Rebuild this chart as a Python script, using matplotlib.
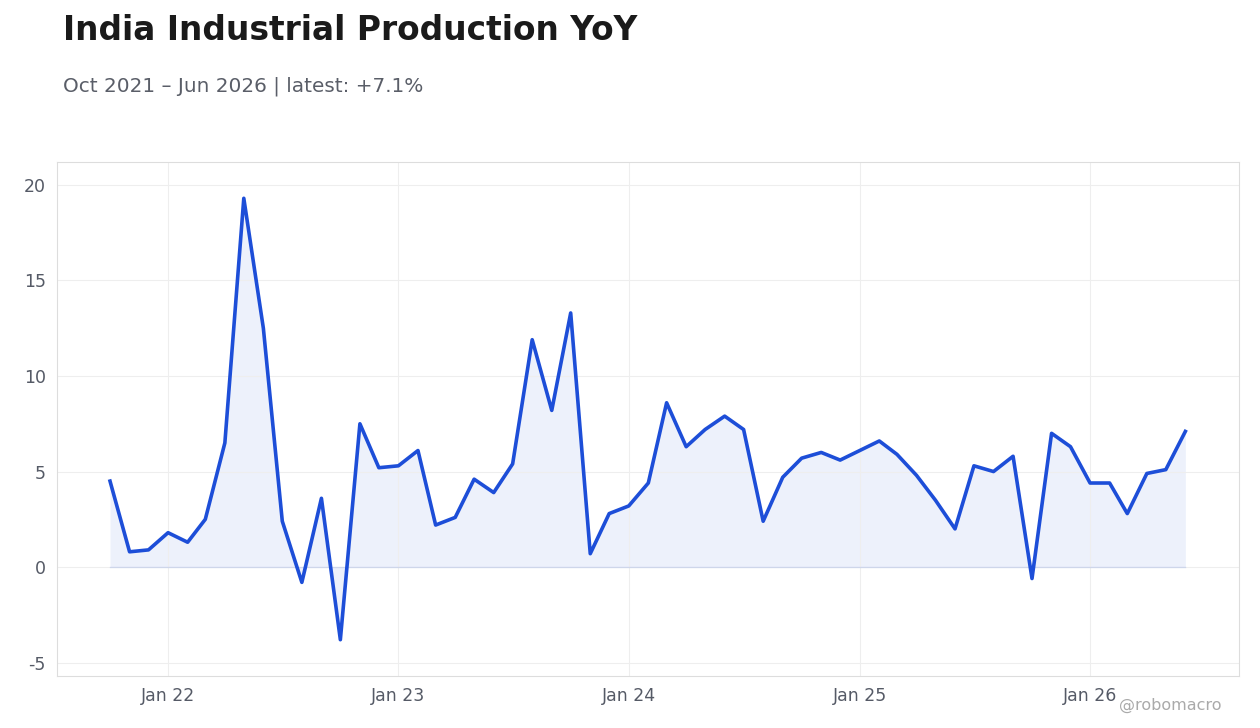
import matplotlib
matplotlib.use("Agg")
import matplotlib.pyplot as plt
import matplotlib.dates as mdates
import pandas as pd

plt.rcParams["axes.unicode_minus"] = False

dates = pd.date_range("2021-10-01", "2026-06-01", freq="MS")
values = [4.5, 0.8, 0.9, 1.8, 1.3, 2.5, 6.5, 19.3, 12.5, 2.4, -0.8, 3.6, -3.8, 7.5, 5.2,
          5.3, 6.1, 2.2, 2.6, 4.6, 3.9, 5.4, 11.9, 8.2, 13.3, 0.7, 2.8,
          3.2, 4.4, 8.6, 6.3, 7.2, 7.9, 7.2, 2.4, 4.7, 5.7, 6.0, 5.6,
          6.1, 6.6, 5.9, 4.8, 3.5, 2.0, 5.3, 5.0, 5.8, -0.6, 7.0, 6.3,
          4.4, 4.4, 2.8, 4.9, 5.1, 7.1]

fig = plt.figure(figsize=(12.6, 7.28), dpi=100)
ax = fig.add_axes([57/1260, 1-676/728, (1239-57)/1260, (676-162)/728])
color = "#1d4ed8"
ax.plot(dates, values, color=color, lw=2.6)
ax.fill_between(dates, values, 0, color=color, alpha=0.08, lw=0)
ax.plot([dates[0], dates[-1]], [0, 0], color=color, alpha=0.15, lw=1)
ax.set_ylim(-5.7, 21.2)
ax.set_xlim(pd.Timestamp("2021-07-09"), pd.Timestamp("2026-08-25"))
ax.set_yticks([-5, 0, 5, 10, 15, 20])
ax.xaxis.set_major_locator(mdates.YearLocator())
ax.xaxis.set_major_formatter(mdates.DateFormatter("Jan %y"))
ax.grid(True, color="#eeeeee", lw=0.8)
for s in ax.spines.values():
    s.set_color("#dddddd")
ax.tick_params(length=0, labelsize=12.5, colors="#555a66", pad=8)
fig.text(63/1260, 1-30/728, "India Industrial Production YoY", fontsize=23.7, fontweight="bold",
         color="#1a1a1a", va="center")
fig.text(63/1260, 1-86/728, "Oct 2021 – Jun 2026 | latest: +7.1%", fontsize=14.4,
         color="#5a5e68", va="center")
fig.text(1222/1260, 1-705/728, "@robomacro", fontsize=11.5, color="#aaaaaa", ha="right", va="center")
fig.savefig("out.png", dpi=100)
